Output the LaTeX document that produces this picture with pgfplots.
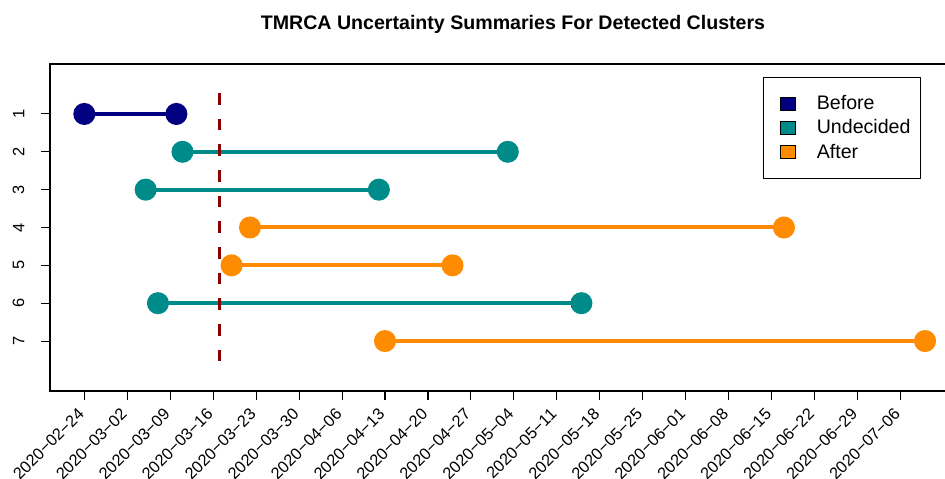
\documentclass[border=0pt]{standalone}
\usepackage{pgfplots}
\pgfplotsset{compat=1.18}
\usepackage{fontspec}
\setmainfont{Liberation Sans}
\definecolor{cBefore}{RGB}{0,0,128}
\definecolor{cUnd}{RGB}{0,139,139}
\definecolor{cAfter}{RGB}{255,140,0}
\definecolor{cDash}{RGB}{139,0,0}
\pgfplotsset{seg/.style={color=#1, line width=3pt, mark=*, mark size=6.75pt, mark options={draw=none, fill=#1}, forget plot}}
\begin{document}
\begin{tikzpicture}
\useasboundingbox (0,0) rectangle (708.75pt,358.5pt);
\node[font=\bfseries\fontsize{14.7}{17}\selectfont, anchor=base] at (384.75pt,336.5pt) {TMRCA Uncertainty Summaries For Detected Clusters};
\begin{axis}[
  at={(37.5pt,65.25pt)}, anchor=south west,
  scale only axis, width=694.5pt, height=245.25pt,
  xmin=-5.59, xmax=145.3, ymin=-0.32, ymax=8.32, y dir=reverse,
  axis line style={line width=0.8pt},
  tick align=outside, major tick length=6.75pt,
  tick style={line width=0.8pt, black},
  xtick pos=bottom, ytick pos=left,
  xtick={0,7,...,133},
  xticklabels={2020−02−24,2020−03−02,2020−03−09,2020−03−16,2020−03−23,2020−03−30,2020−04−06,2020−04−13,2020−04−20,2020−04−27,2020−05−04,2020−05−11,2020−05−18,2020−05−25,2020−06−01,2020−06−08,2020−06−15,2020−06−22,2020−06−29,2020−07−06},
  ytick={1,...,7},
  yticklabel style={rotate=90, anchor=south},
  yticklabel shift=9pt,
  xticklabel style={rotate=45, anchor=east},
  xticklabel shift=6pt,
  ticklabel style={font=\fontsize{12.3}{14}\selectfont},
  /pgf/number format/assume math mode=true,
  legend style={at={(0.770,0.960)}, anchor=north west, draw=black, line width=0.6pt,
    font=\fontsize{14.7}{17}\selectfont, inner xsep=5.5pt, inner ysep=11.5pt,
    row sep=2.1pt, nodes={inner sep=2pt},
    /tikz/every odd column/.append style={column sep=14pt}},
  legend cell align=left,
  legend image code/.code={\path (0pt,0pt); \draw[#1, draw=black, line width=0.5pt] (6.75pt,-4.9pt) rectangle (18pt,4.9pt);},
]
\addlegendimage{fill=cBefore}
\addlegendentry{Before}
\addlegendimage{fill=cUnd}
\addlegendentry{Undecided}
\addlegendimage{fill=cAfter}
\addlegendentry{After}
\addplot[seg=cBefore] coordinates {(0,1) (15,1)};
\addplot[seg=cUnd] coordinates {(16,2) (69,2)};
\addplot[seg=cUnd] coordinates {(10,3) (48,3)};
\addplot[seg=cAfter] coordinates {(27,4) (114,4)};
\addplot[seg=cAfter] coordinates {(24,5) (60,5)};
\addplot[seg=cUnd] coordinates {(12,6) (81,6)};
\addplot[seg=cAfter] coordinates {(49,7) (137,7)};
\addplot[cDash, line width=2.1pt, dash pattern=on 8.6pt off 10.65pt, forget plot] coordinates {(22,0.45) (22,7.53)};
\end{axis}
\end{tikzpicture}
\end{document}
